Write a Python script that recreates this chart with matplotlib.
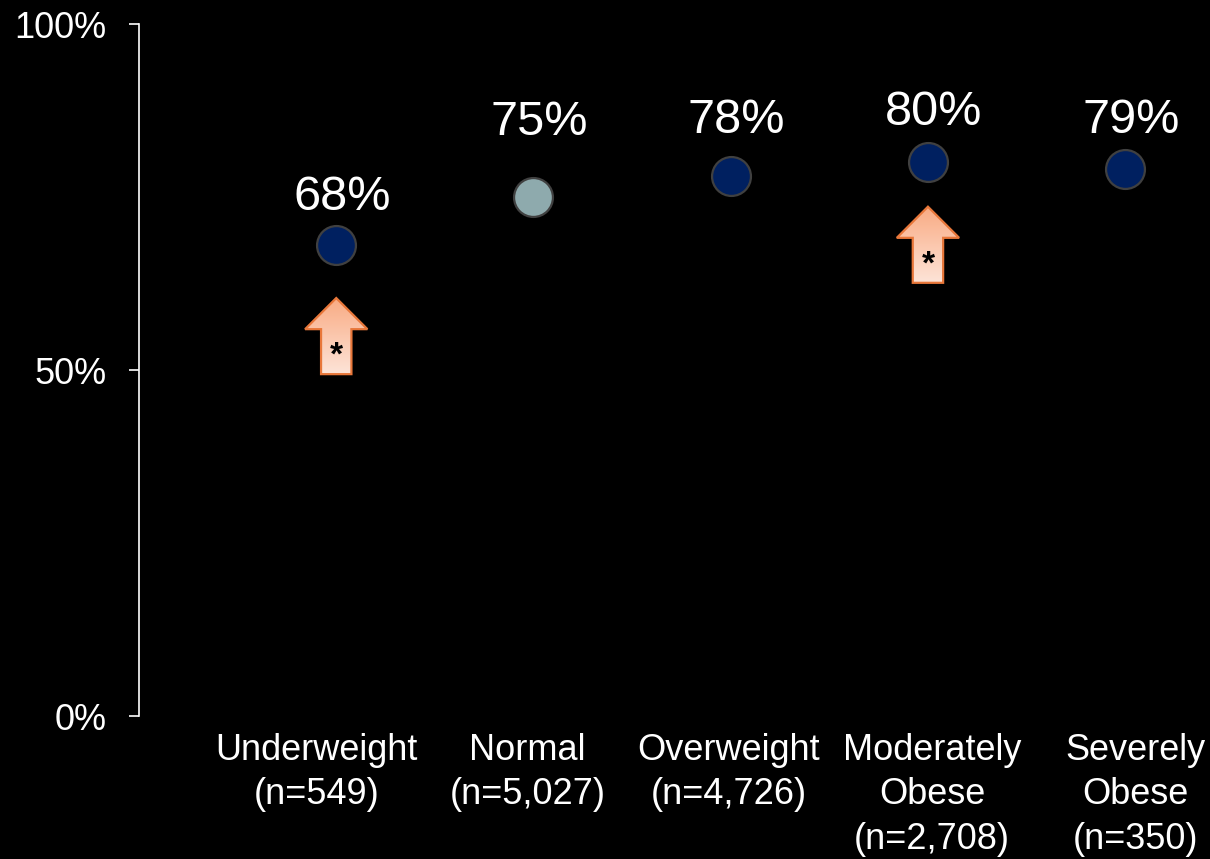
import numpy as np
import matplotlib.pyplot as plt
from matplotlib.patches import Polygon
from matplotlib.transforms import blended_transform_factory

plt.rcParams["font.family"] = ["Liberation Sans", "DejaVu Sans"]

# data
categories = ["Underweight\n(n=549)", "Normal\n(n=5,027)", "Overweight\n(n=4,726)",
              "Moderately\nObese\n(n=2,708)", "Severely\nObese\n(n=350)"]
values = [0.68, 0.75, 0.78, 0.80, 0.79]
value_labels = ["68%", "75%", "78%", "80%", "79%"]
is_reference = [False, True, False, False, False]
significant = [True, False, False, True, False]

NAVY = "#002060"
REF = "#8EAAAD"
ARROW_EDGE = "#E8773A"

fig = plt.figure(figsize=(12.1, 8.59), dpi=100, facecolor="black")
ax = fig.add_axes([139 / 1210, 143 / 859, 1 - 139 / 1210, 692 / 859])
ax.set_facecolor("black")

x = np.arange(len(values))
for xi, v, ref in zip(x, values, is_reference):
    ax.plot(xi, v, "o", ms=28, mfc=REF if ref else NAVY, mec="#404040", mew=1.6,
            zorder=3)

# value labels above markers (baseline positions)
label_base = [0.731, 0.840, 0.842, 0.854, 0.842]
for xi, lab, yb in zip(x, value_labels, label_base):
    ax.text(xi + 0.03, yb, lab, ha="center", va="baseline", fontsize=35,
            color="white")

# significance arrows under markers (tip heights)
arrow_tip = {0: 0.604, 3: 0.736}
grad = np.linspace(0, 1, 256).reshape(-1, 1)
top_c = np.array([249, 170, 130]) / 255
bot_c = np.array([253, 228, 216]) / 255
grad_img = top_c[None, None, :] * (1 - grad[:, :, None]) + bot_c[None, None, :] * grad[:, :, None]
for xi, sig in zip(x, significant):
    if not sig:
        continue
    tip = arrow_tip[xi]
    base = tip - 0.045
    bottom = tip - 0.110
    hw, sw = 0.158, 0.077
    pts = [(xi, tip), (xi + hw, base), (xi + sw, base), (xi + sw, bottom),
           (xi - sw, bottom), (xi - sw, base), (xi - hw, base)]
    poly = Polygon(pts, closed=True, fc="none", ec=ARROW_EDGE, lw=1.6, zorder=4)
    ax.add_patch(poly)
    im = ax.imshow(grad_img, extent=(xi - hw, xi + hw, bottom, tip), aspect="auto",
                   origin="upper", zorder=2.5)
    im.set_clip_path(poly)
    ax.text(xi, bottom + 0.026, "*", ha="center", va="center", fontsize=24,
            fontweight="bold", color="black", zorder=5)

# category labels
cat_x = [-0.10, 0.97, 1.99, 3.02, 4.05]
trans = blended_transform_factory(ax.transData, ax.transAxes)
for cx, cat in zip(cat_x, categories):
    ax.text(cx, -0.024, cat, transform=trans, ha="center", va="top", fontsize=26,
            color="white", linespacing=1.36)

ax.set_xlim(-1.0, 4.43)
ax.set_ylim(0, 1)
ax.set_yticks([0, 0.5, 1.0])
ax.set_yticklabels(["0%", "50%", "100%"])
ax.set_xticks([])
ax.tick_params(axis="y", colors="white", labelsize=26, length=7.5, width=1.2,
               pad=16)
for s in ["top", "right", "bottom"]:
    ax.spines[s].set_visible(False)
ax.spines["left"].set_color("white")
ax.spines["left"].set_linewidth(1.2)

fig.savefig("out.png", dpi=100, facecolor="black")
